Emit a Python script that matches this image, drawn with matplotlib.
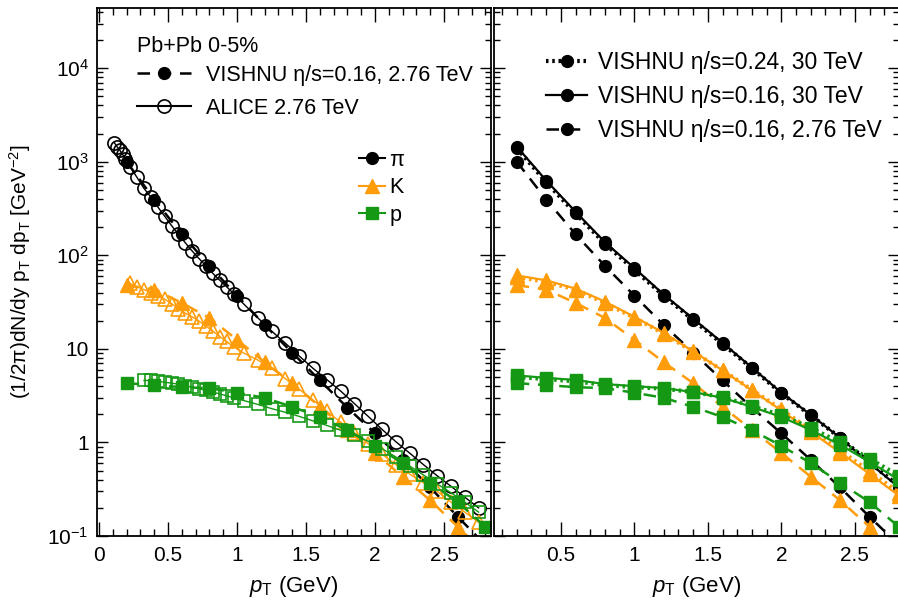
import matplotlib
matplotlib.use('Agg')
import matplotlib.pyplot as plt
from matplotlib.lines import Line2D
from matplotlib.ticker import FixedLocator, LogLocator, NullFormatter

plt.rcParams['font.family'] = ['Liberation Sans', 'DejaVu Sans']
plt.rcParams['mathtext.fontset'] = 'custom'
plt.rcParams['mathtext.rm'] = 'Liberation Sans'
plt.rcParams['mathtext.it'] = 'Liberation Sans:italic'
plt.rcParams['font.size'] = 15

ORANGE = '#ff9c0a'
GREEN = '#159915'

# VISHNU model points
pt_model = [0.2, 0.4, 0.6, 0.8, 1.0, 1.2, 1.4, 1.6, 1.8, 2.0, 2.2, 2.4, 2.6, 2.8]
pion_276 = [1000, 395, 168, 77, 37, 18, 9.1, 4.6, 2.35, 1.25, 0.65, 0.33, 0.16, 0.08]
kaon_276 = [48, 43, 31, 21.4, 12.5, 7.2, 4.3, 2.4, 1.36, 0.77, 0.43, 0.24, 0.125, 0.065]
proton_276 = [4.3, 4.1, 3.9, 3.8, 3.4, 3.0, 2.4, 1.87, 1.35, 0.92, 0.60, 0.37, 0.23, 0.125]

pion_30 = [1450, 630, 292, 138, 73, 38, 21, 11.6, 6.3, 3.4, 1.97, 1.12, 0.6, 0.33]
kaon_30 = [61, 54, 44, 32, 22, 14.8, 9.4, 5.9, 3.6, 2.2, 1.3, 0.78, 0.46, 0.27]
proton_30 = [5.2, 4.9, 4.65, 4.2, 4.0, 3.8, 3.46, 3.0, 2.4, 1.87, 1.36, 0.94, 0.62, 0.40]

pion_30_024 = [1400, 605, 280, 133, 70, 37, 20.3, 11.3, 6.2, 3.35, 1.95, 1.12, 0.61, 0.34]
kaon_30_024 = [59, 52, 43, 31, 21.5, 14.6, 9.3, 5.9, 3.65, 2.25, 1.35, 0.82, 0.49, 0.29]
proton_30_024 = [5.0, 4.75, 4.5, 4.1, 3.9, 3.75, 3.45, 3.05, 2.45, 1.95, 1.43, 1.0, 0.67, 0.44]

# ALICE 2.76 TeV data
alice_pion_pt = [0.11, 0.13, 0.15, 0.17, 0.19, 0.225, 0.275, 0.325, 0.375, 0.425,
                 0.475, 0.525, 0.575, 0.625, 0.675, 0.725, 0.775, 0.825, 0.875,
                 0.925, 0.975, 1.05, 1.15, 1.25, 1.35, 1.45, 1.55, 1.65, 1.75,
                 1.85, 1.95, 2.05, 2.15, 2.25, 2.35, 2.45, 2.55, 2.65, 2.75]
alice_pion = [1600, 1450, 1330, 1200, 1080, 880, 680, 520, 420, 330, 262, 208, 168,
              136, 111, 92, 77, 64, 54, 46, 39, 30, 21.5, 15.5, 11.5, 8.4, 6.2, 4.7,
              3.55, 2.6, 1.9, 1.38, 1.02, 0.77, 0.58, 0.44, 0.34, 0.26, 0.2]

alice_kaon_pt = [0.225, 0.275, 0.325, 0.375, 0.425, 0.475, 0.525, 0.575, 0.625,
                 0.675, 0.725, 0.775, 0.825, 0.875, 0.925, 0.975, 1.05, 1.15, 1.25,
                 1.35, 1.45, 1.55, 1.65, 1.75, 1.85, 1.95, 2.05, 2.15, 2.25, 2.35,
                 2.45, 2.55, 2.65, 2.75]
alice_kaon = [50, 46, 43, 40, 37, 34, 30.5, 27, 24, 22, 19.8, 17.5, 15.5, 13.5, 12,
              10.5, 9.0, 7.6, 6.2, 4.8, 3.7, 2.85, 2.15, 1.65, 1.27, 0.97, 0.75,
              0.58, 0.46, 0.37, 0.3, 0.23, 0.18, 0.14]

alice_proton_pt = [0.325, 0.375, 0.425, 0.475, 0.525, 0.575, 0.625, 0.675, 0.725,
                   0.775, 0.825, 0.875, 0.925, 0.975, 1.05, 1.15, 1.25, 1.35, 1.45,
                   1.55, 1.65, 1.75, 1.85, 1.95, 2.05, 2.15, 2.25, 2.35, 2.45, 2.55,
                   2.65, 2.75]
alice_proton = [4.6, 4.6, 4.5, 4.4, 4.3, 4.2, 4.05, 3.9, 3.75, 3.6, 3.45, 3.3, 3.15,
                3.0, 2.8, 2.55, 2.3, 2.1, 1.9, 1.7, 1.52, 1.35, 1.2, 1.03, 0.86, 0.7,
                0.56, 0.45, 0.36, 0.29, 0.23, 0.18]

y_ticks = [0.1, 1, 10, 100, 1000, 10000]
y_tick_labels = [r'$\mathregular{10^{-1}}$', '1', '10', r'$\mathregular{10^{2}}$',
                 r'$\mathregular{10^{3}}$', r'$\mathregular{10^{4}}$']

DASH = (0, (5, 3.5))
DOT = (0, (0.6, 0.9))

W, H = 898, 613
fig = plt.figure(figsize=(W / 100, H / 100), dpi=100)
ax1 = fig.add_axes([97 / W, (H - 536) / H, 394 / W, 528 / H])
ax2 = fig.add_axes([494 / W, (H - 536) / H, 405 / W, 528 / H])


def style_axis(ax, xlim):
    ax.set_yscale('log')
    ax.set_ylim(0.1, 4.4e4)
    ax.set_xlim(*xlim)
    ax.xaxis.set_major_locator(FixedLocator([0, 0.5, 1, 1.5, 2, 2.5]))
    ax.xaxis.set_minor_locator(FixedLocator([i / 10 for i in range(30)]))
    ax.yaxis.set_major_locator(FixedLocator(y_ticks))
    ax.yaxis.set_minor_locator(LogLocator(base=10, subs=range(2, 10), numticks=20))
    ax.yaxis.set_minor_formatter(NullFormatter())
    ax.tick_params(which='both', direction='in', top=True, right=True, labelsize=15)
    ax.tick_params(axis='x', which='major', length=10, width=1, pad=7)
    ax.tick_params(axis='x', which='minor', length=5, width=1)
    ax.tick_params(axis='y', which='major', length=8, width=1, pad=6)
    ax.tick_params(axis='y', which='minor', length=4, width=1)
    for s in ax.spines.values():
        s.set_linewidth(1.3)
    ax.set_xlabel(r'$p_\mathregular{T}$ (GeV)', fontsize=16, labelpad=7)


style_axis(ax1, (-0.015, 2.84))
style_axis(ax2, (0.045, 2.80))
ax1.set_yticklabels(y_tick_labels)
ax2.set_yticklabels([])
ax2.set_xticks([0.5, 1, 1.5, 2, 2.5])
ax2.set_xticklabels(['0.5', '1', '1.5', '2', '2.5'])
ax1.set_xticklabels(['0', '0.5', '1', '1.5', '2', '2.5'])
ax1.set_ylabel(r'(1/2π)dN/dy p$_\mathregular{T}$ dp$_\mathregular{T}$ [GeV$^\mathregular{-2}$]',
               fontsize=15, labelpad=10)

# left panel: ALICE data and VISHNU 2.76 TeV
species = [
    (alice_pion_pt, alice_pion, pion_276, 'k', 'o', 8.5),
    (alice_kaon_pt, alice_kaon, kaon_276, ORANGE, '^', 9.5),
    (alice_proton_pt, alice_proton, proton_276, GREEN, 's', 8),
]
for a_pt, a_val, model, col, mk, ms in species:
    ax1.plot(a_pt, a_val, '-', color=col, lw=1, marker=mk, ms=ms + 1,
             mfc='none', mec=col, mew=1.2)
    ax1.plot(pt_model, model, color=col, ls=DASH, lw=1.8, marker=mk, ms=ms,
             mfc=col, mec=col)

# right panel: VISHNU comparisons
right = [
    (pion_276, pion_30, pion_30_024, 'k', 'o', 8.5),
    (kaon_276, kaon_30, kaon_30_024, ORANGE, '^', 9.5),
    (proton_276, proton_30, proton_30_024, GREEN, 's', 8),
]
for v276, v30, v30b, col, mk, ms in right:
    ax2.plot(pt_model, v276, color=col, ls=DASH, lw=1.8, marker=mk, ms=ms, mfc=col, mec=col)
    ax2.plot(pt_model, v30b, color=col, ls=DOT, lw=3, marker=mk, ms=ms, mfc=col, mec=col)
    ax2.plot(pt_model, v30, color=col, ls='-', lw=1.6, marker=mk, ms=ms, mfc=col, mec=col)

# legends, left panel
fig.text(137 / W, 1 - 47 / H, 'Pb+Pb 0-5%', fontsize=15.5, va='center', ha='left')
h_left = [
    Line2D([], [], color='k', ls=DASH, lw=1.8, marker='o', ms=8.5),
    Line2D([], [], color='k', ls='-', lw=1.5, marker='o', ms=9.5, mfc='none', mew=1.2),
]
leg1 = ax1.legend(h_left, ['VISHNU η/s=0.16, 2.76 TeV', 'ALICE 2.76 TeV'],
                  loc='upper left', bbox_to_anchor=(137 / W, 1 - 65 / H),
                  bbox_transform=fig.transFigure, frameon=False, fontsize=15.5,
                  handlelength=2.5, handletextpad=0.7, labelspacing=0.55,
                  borderpad=0, borderaxespad=0, numpoints=1)
ax1.add_artist(leg1)
h_species = [
    Line2D([], [], color='k', ls='-', lw=1.5, marker='o', ms=8.5),
    Line2D([], [], color=ORANGE, ls='-', lw=1.5, marker='^', ms=9.5),
    Line2D([], [], color=GREEN, ls='-', lw=1.5, marker='s', ms=8),
]
ax1.legend(h_species, ['π', 'K', 'p'], loc='upper left',
           bbox_to_anchor=(359 / W, 1 - 150 / H), bbox_transform=fig.transFigure,
           frameon=False, fontsize=15.5, handlelength=1.2, handletextpad=0.2,
           labelspacing=0.3, borderpad=0, borderaxespad=0, numpoints=1)

# legend, right panel
h_right = [
    Line2D([], [], color='k', ls=DOT, lw=3, marker='o', ms=8.5),
    Line2D([], [], color='k', ls='-', lw=1.6, marker='o', ms=8.5),
    Line2D([], [], color='k', ls=DASH, lw=1.8, marker='o', ms=8.5),
]
ax2.legend(h_right, ['VISHNU η/s=0.24, 30 TeV', 'VISHNU η/s=0.16, 30 TeV',
                     'VISHNU η/s=0.16, 2.76 TeV'],
           loc='upper left', bbox_to_anchor=(546 / W, 1 - 51 / H),
           bbox_transform=fig.transFigure, frameon=False, fontsize=16.5,
           handlelength=1.8, handletextpad=0.45, labelspacing=0.48,
           borderpad=0, borderaxespad=0, numpoints=1)

fig.savefig('out.png', dpi=100)
